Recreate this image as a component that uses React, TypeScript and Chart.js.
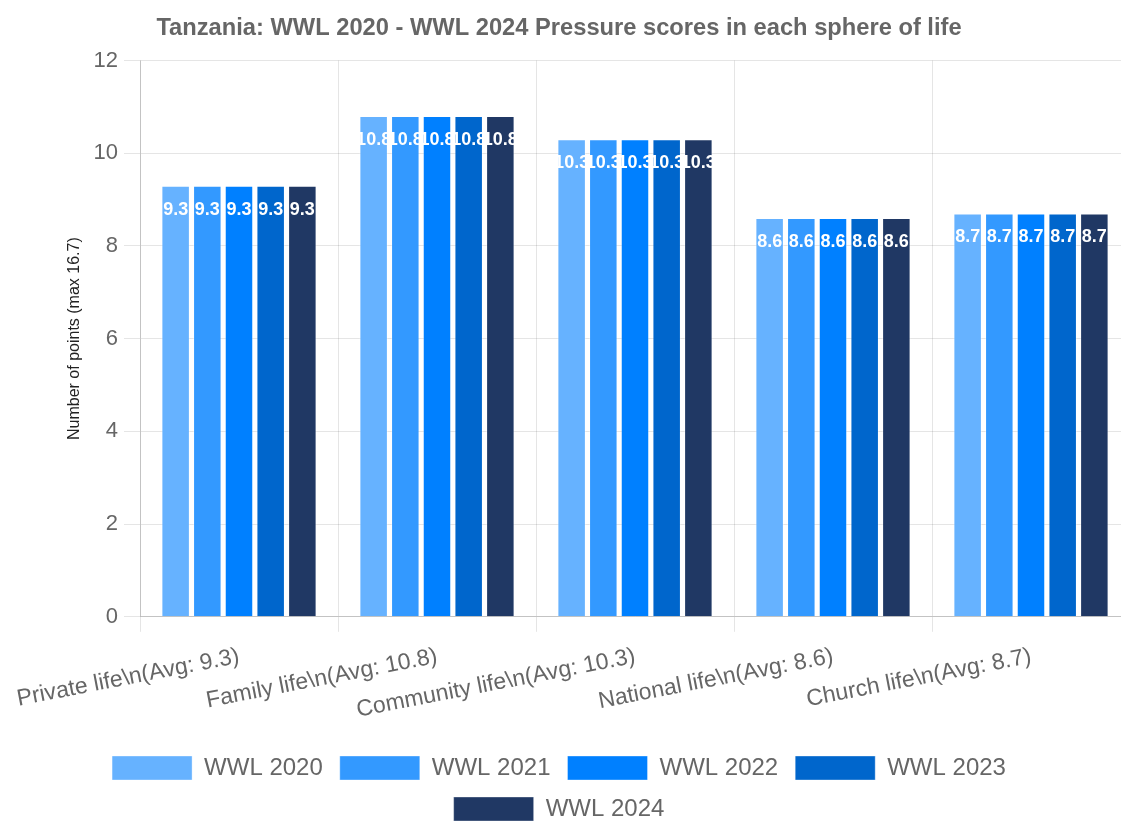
import React, { useEffect, useRef } from "react";
import { Chart, registerables } from "chart.js";

Chart.register(...registerables);

const categories = [
  "Private life\\n(Avg: 9.3)",
  "Family life\\n(Avg: 10.8)",
  "Community life\\n(Avg: 10.3)",
  "National life\\n(Avg: 8.6)",
  "Church life\\n(Avg: 8.7)",
];
const seriesNames = ["WWL 2020", "WWL 2021", "WWL 2022", "WWL 2023", "WWL 2024"];
const wwl2020 = [9.3, 10.8, 10.3, 8.6, 8.7];
const wwl2021 = [9.3, 10.8, 10.3, 8.6, 8.7];
const wwl2022 = [9.3, 10.8, 10.3, 8.6, 8.7];
const wwl2023 = [9.3, 10.8, 10.3, 8.6, 8.7];
const wwl2024 = [9.3, 10.8, 10.3, 8.6, 8.7];
const seriesValues = [wwl2020, wwl2021, wwl2022, wwl2023, wwl2024];
const seriesColors = ["#66B2FF", "#3399FF", "#0080FF", "#0066CC", "#203864"];
const titleText = "Tanzania: WWL 2020 - WWL 2024 Pressure scores in each sphere of life";
const yAxisTitle = "Number of points (max 16.7)";

const FONT = "'Liberation Sans', Arial, Helvetica, sans-serif";

const valueLabels = {
  id: "valueLabels",
  afterDatasetsDraw(chart: any) {
    const ctx = chart.ctx;
    ctx.save();
    ctx.font = `bold 18px ${FONT}`;
    ctx.fillStyle = "#ffffff";
    ctx.textAlign = "center";
    ctx.textBaseline = "middle";
    chart.data.datasets.forEach((ds: any, di: number) => {
      const meta = chart.getDatasetMeta(di);
      meta.data.forEach((bar: any, i: number) => {
        const v = ds.data[i];
        ctx.fillText(String(v), bar.x, bar.y + 24);
      });
    });
    ctx.restore();
  },
};

export default function App() {
  const ref = useRef<HTMLCanvasElement | null>(null);
  useEffect(() => {
    if (!ref.current) return;
    const chart = new Chart(ref.current, {
      type: "bar",
      data: {
        labels: categories,
        datasets: seriesNames.map((name, i) => ({
          label: name,
          data: seriesValues[i],
          backgroundColor: seriesColors[i],
          borderColor: "rgba(255,255,255,0.35)",
          borderWidth: 1,
        })),
      },
      options: {
        animation: false,
        responsive: true,
        maintainAspectRatio: false,
        layout: { padding: { left: 0, right: 2, top: 0, bottom: 0 } },
        plugins: {
          title: {
            display: true,
            text: titleText,
            color: "#666",
            font: { family: FONT, size: 23.7, weight: "bold" },
            padding: { top: 14, bottom: 18 },
          },
          legend: {
            position: "bottom",
            labels: {
              color: "#666",
              font: { family: FONT, size: 24 },
              boxWidth: 80,
              boxHeight: 24,
              padding: 17,
            },
          },
          tooltip: { enabled: false },
        },
        scales: {
          x: {
            grid: { color: "rgba(0,0,0,0.1)", tickLength: 15 },
            border: { color: "rgba(0,0,0,0.15)" },
            ticks: {
              color: "#666",
              font: { family: FONT, size: 23 },
              minRotation: 11,
              maxRotation: 11,
              padding: 11,
            },
            afterFit: (scale: any) => {
              scale.height = scale.height + 4;
            },
          },
          y: {
            min: 0,
            max: 12,
            grid: { color: "rgba(0,0,0,0.1)", tickLength: 16 },
            border: { color: "rgba(0,0,0,0.15)" },
            ticks: {
              stepSize: 2,
              color: "#666",
              font: { family: FONT, size: 22 },
              padding: 6,
            },
            title: {
              display: true,
              text: yAxisTitle,
              color: "#222",
              font: { family: FONT, size: 16 },
              padding: { top: 77, bottom: 4 },
            },
            afterFit: (scale: any) => {
              scale.width = 152;
            },
          },
        },
      },
      plugins: [valueLabels],
    });
    return () => chart.destroy();
  }, []);
  return (
    <div style={{ position: "absolute", left: -12, top: 0, width: 1144, height: 831 }}>
      <canvas ref={ref} />
    </div>
  );
}
